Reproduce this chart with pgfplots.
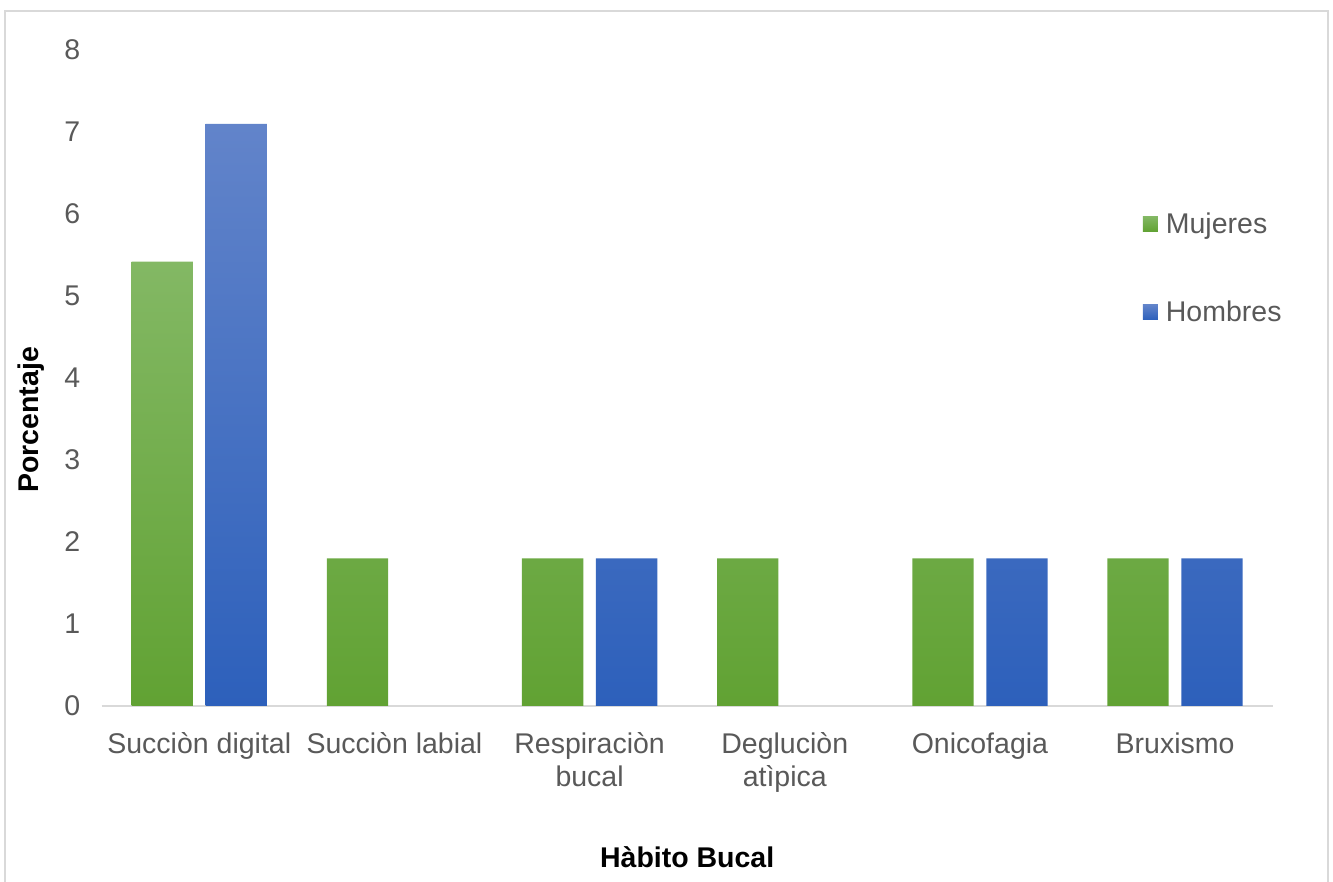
\documentclass[border=0pt]{standalone}
\usepackage{pgfplots}
\pgfplotsset{compat=1.18}
\usepackage{fontspec}
\setmainfont{Liberation Sans}
\definecolor{gtop}{HTML}{83B864}
\definecolor{gbot}{HTML}{61A233}
\definecolor{btop}{HTML}{6284CA}
\definecolor{bbot}{HTML}{2D60BB}
\definecolor{txt}{HTML}{595959}
\definecolor{axl}{HTML}{D9D9D9}
\newcommand{\fs}{\fontsize{28.5}{33}\selectfont}
\begin{document}
\begin{tikzpicture}[x=1pt,y=1pt]
\path[use as bounding box] (0,0) rectangle (1333,882);
\draw[axl, line width=1.5pt] (5,-5) -- (5,871) -- (1328,871) -- (1328,-5);
\begin{axis}[
  at={(101.7pt,176pt)}, anchor=south west,
  scale only axis, width=1171pt, height=656pt,
  xmin=-0.5, xmax=5.5, ymin=0, ymax=8,
  ytick={0,1,...,8},
  xtick={0,1,2,3,4,5},
  xticklabels={Succiòn digital, Succiòn labial, {Respiraciòn\\bucal}, {Degluciòn\\atìpica}, Onicofagia, Bruxismo},
  axis x line*=bottom, axis y line*=left,
  y axis line style={draw=none},
  x axis line style={draw=axl, line width=1.5pt, -},
  major tick length=0pt,
  /pgf/number format/assume math mode=true,
  ticklabel style={font=\fs, text=txt},
  xticklabel style={align=center, yshift=-23pt},
  yticklabel style={xshift=-18pt},
  xlabel={\textbf{Hàbito Bucal}},
  ylabel={\textbf{Porcentaje}},
  label style={font=\fs, text=black},
  xlabel style={at={(axis description cs:0.5,-0.230)}, anchor=center},
  ylabel style={at={(axis description cs:-0.060,0.436)}, anchor=center, rotate=0},
  legend style={draw=none, fill=none, at={(axis description cs:0.889,0.755)}, anchor=north west,
    font=\fs, text=txt, row sep=62pt, column sep=6pt, inner sep=0pt},
  legend cell align=left,
]
\addplot[ybar, bar width=61.3pt, bar shift=-37pt, draw=none, top color=gtop, bottom color=gbot,
  legend image code/.code={\fill[top color=gtop, bottom color=gbot] (0pt,-7.5pt) rectangle (15pt,7.5pt);}]
  coordinates {(0,5.42) (1,1.8) (2,1.8) (3,1.8) (4,1.8) (5,1.8)};
\addlegendentry{Mujeres}
\addplot[ybar, bar width=61.3pt, bar shift=37pt, draw=none, top color=btop, bottom color=bbot,
  legend image code/.code={\fill[top color=btop, bottom color=bbot] (0pt,-7.5pt) rectangle (15pt,7.5pt);}]
  coordinates {(0,7.1) (2,1.8) (4,1.8) (5,1.8)};
\addlegendentry{Hombres}
\end{axis}
\end{tikzpicture}
\end{document}
